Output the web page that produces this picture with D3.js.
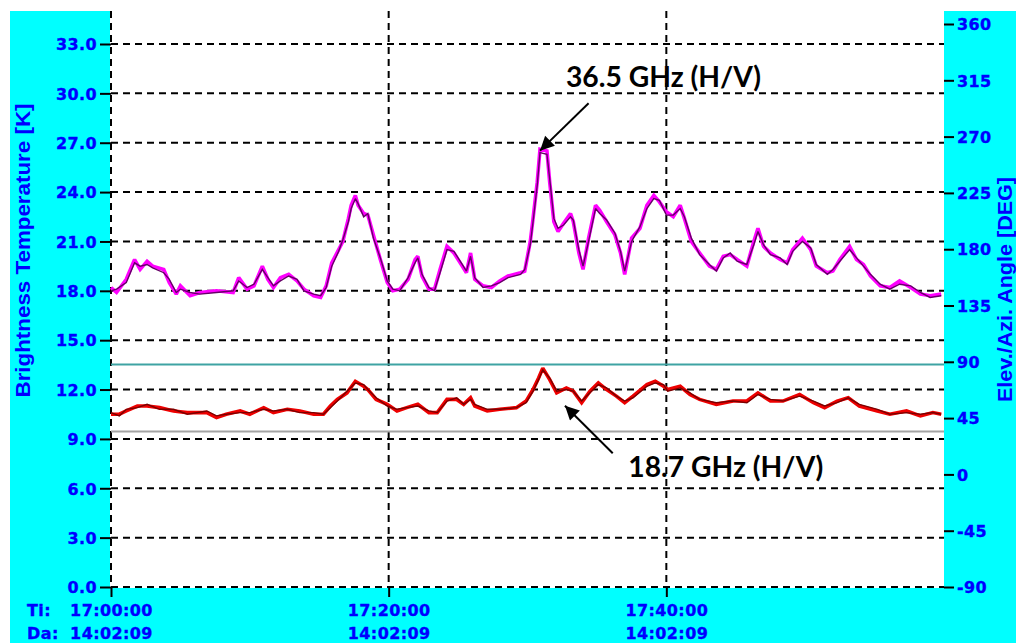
<!DOCTYPE html>
<html><head><meta charset="utf-8">
<script src="https://cdn.jsdelivr.net/npm/d3@7"></script>
<style>
html,body{margin:0;padding:0;background:#fff;}
svg{display:block;}
</style></head><body>
<svg id="chart" width="1016" height="643"></svg>
<script>
// ---- data ----
const leftTicks = [0, 3, 6, 9, 12, 15, 18, 21, 24, 27, 30, 33];
const rightTicks = [-90, -45, 0, 45, 90, 135, 180, 225, 270, 315, 360];
const timeTicks = [0, 20, 40]; // minutes after 17:00:00
const timeLabels = ["17:00:00", "17:20:00", "17:40:00"];
const dateLabels = ["14:02:09", "14:02:09", "14:02:09"];

// 36.5 GHz, minutes after 17:00 and brightness temperature [K]
const t36 = [0.0,0.4,1.1,1.7,2.1,2.6,3.0,3.8,4.2,4.7,5.0,5.7,6.4,7.6,8.8,9.2,9.8,10.3,10.9,11.3,11.7,12.2,12.8,13.4,13.9,14.6,15.1,15.5,15.9,16.4,16.7,17.1,17.3,17.6,17.8,18.2,18.5,18.9,19.4,19.9,20.3,20.8,21.4,21.9,22.1,22.4,22.9,23.3,23.7,24.2,24.7,25.3,25.6,25.9,26.2,26.8,27.4,28.0,28.6,29.5,29.8,30.2,30.4,30.7,30.9,31.4,31.6,31.9,32.2,32.6,33.1,33.3,33.7,34.0,34.4,34.9,35.2,35.7,36.3,36.7,37.0,37.5,38.1,38.6,39.1,39.5,40.0,40.5,41.0,41.3,41.8,42.4,43.1,43.6,44.1,44.6,45.1,45.8,46.3,46.6,47.0,47.5,48.2,48.7,49.1,49.8,50.4,50.8,51.6,52.0,52.5,53.2,53.7,54.2,54.7,55.4,56.1,56.8,57.6,58.3,59.0,59.8];
const tb36H = [18.2,17.9,18.7,19.9,19.3,19.8,19.5,19.3,18.5,17.8,18.3,17.7,17.9,18.0,17.9,18.8,18.1,18.3,19.5,18.7,18.2,18.8,19.0,18.6,18.1,17.7,17.6,18.3,19.7,20.5,21.0,22.4,23.2,23.8,23.2,22.7,22.6,21.4,19.9,18.5,18.0,18.1,18.7,19.9,20.1,18.9,18.1,18.1,19.3,20.7,20.3,19.5,19.1,20.3,18.7,18.3,18.2,18.6,18.9,19.1,19.2,21.0,22.4,24.6,26.6,26.5,24.6,22.2,21.6,22.1,22.7,22.2,20.3,19.3,21.2,23.2,22.9,22.2,21.4,20.3,19.0,21.2,21.8,23.2,23.8,23.4,22.8,22.5,23.2,22.4,21.0,20.3,19.5,19.3,20.1,20.2,19.9,19.5,21.0,21.8,20.7,20.3,19.9,19.7,20.5,21.2,20.5,19.5,19.1,19.2,19.9,20.7,19.9,19.6,18.9,18.3,18.2,18.6,18.2,17.8,17.7,17.8];
const tb36V = [18.0,18.1,18.5,19.7,19.5,19.6,19.4,19.1,18.7,17.9,18.1,17.9,17.8,17.9,18.0,18.6,18.2,18.4,19.3,18.8,18.3,18.6,18.9,18.7,18.0,17.8,17.7,18.2,19.5,20.4,21.1,22.2,23.0,23.6,23.3,22.5,22.7,21.2,20.0,18.6,18.1,18.0,18.8,19.7,20.0,19.0,18.2,18.0,19.1,20.5,20.4,19.6,19.2,20.1,18.8,18.2,18.3,18.5,18.8,19.0,19.3,20.8,22.2,24.4,26.4,26.3,24.8,22.4,21.8,22.0,22.5,22.3,20.5,19.5,21.0,23.0,22.7,22.3,21.5,20.4,19.2,21.0,21.9,23.0,23.6,23.5,22.6,22.6,23.0,22.5,21.2,20.2,19.6,19.2,20.0,20.3,19.8,19.6,20.8,21.6,20.8,20.2,20.0,19.6,20.4,21.0,20.6,19.6,19.0,19.3,19.8,20.5,20.0,19.5,19.0,18.4,18.1,18.4,18.3,17.9,17.6,17.7];

// 18.7 GHz
const t18 = [0.0,0.6,1.1,1.9,2.6,3.5,4.5,5.5,6.9,7.6,8.3,9.3,10.0,11.0,11.7,12.7,13.6,14.6,15.3,15.8,16.3,17.0,17.6,18.2,18.5,19.1,19.9,20.6,21.3,22.1,22.9,23.5,24.2,24.9,25.4,25.9,26.2,27.1,28.0,29.2,29.9,30.4,30.8,31.1,31.6,32.1,32.8,33.3,33.9,34.5,35.1,35.7,36.4,37.0,37.6,38.6,39.2,39.8,40.1,41.0,41.7,42.4,43.6,44.8,45.8,46.6,47.5,48.4,49.6,50.6,51.4,52.3,53.1,53.9,55.2,56.1,57.3,58.3,59.2,59.8];
const tb18H = [10.5,10.5,10.7,11.0,11.0,10.9,10.7,10.6,10.6,10.3,10.5,10.7,10.5,10.9,10.6,10.8,10.7,10.5,10.5,11.0,11.4,11.8,12.5,12.2,12.0,11.4,11.1,10.7,10.9,11.1,10.6,10.6,11.4,11.4,11.1,11.5,11.0,10.7,10.8,10.9,11.3,12.0,12.7,13.3,12.6,11.8,12.1,11.9,11.2,11.9,12.4,12.0,11.6,11.2,11.6,12.3,12.5,12.2,12.0,12.2,11.7,11.4,11.1,11.3,11.3,11.8,11.3,11.3,11.7,11.2,10.9,11.3,11.5,11.0,10.7,10.5,10.7,10.4,10.6,10.5];
const tb18V = [10.6,10.4,10.8,10.9,11.1,10.8,10.8,10.5,10.7,10.4,10.5,10.6,10.6,10.8,10.7,10.8,10.6,10.6,10.5,10.9,11.3,11.9,12.4,12.3,12.0,11.5,11.0,10.8,10.9,11.0,10.7,10.6,11.3,11.5,11.1,11.4,11.1,10.8,10.8,10.9,11.2,11.9,12.6,13.2,12.7,11.9,12.0,11.9,11.3,11.8,12.3,12.1,11.6,11.3,11.5,12.2,12.4,12.3,11.9,12.1,11.8,11.4,11.2,11.3,11.2,11.7,11.4,11.3,11.6,11.3,11.0,11.2,11.5,11.1,10.8,10.5,10.6,10.5,10.6,10.5];

// constant antenna angles [deg], right axis
const angleNames = ["Elevation", "Azimuth"];
const angleValues = [87.9, 34.2];

// annotations in data units (minutes, K)
const annoLabels = ["36.5 GHz (H/V)", "18.7 GHz (H/V)"];
const annoTextAt = [[32.77, 30.37], [37.26, 6.67]];
const annoTail = [[34.4, 29.4], [36.14, 8.13]];
const annoTip = [[30.9, 26.52], [32.7, 11.02]];

// ---- drawing ----
const svg = d3.select("#chart");
const x = d3.scaleLinear().domain([0, 60]).range([111, 944]);
const yL = d3.scaleLinear().domain([0, 33]).range([587, 44]);
const yR = d3.scaleLinear().domain([-90, 360]).range([587, 24]);
const P = {l: 110, r: 944, t: 11, b: 588};
const BLUE = "#0000ff";
const tickFont = "'DejaVu Sans', Verdana, sans-serif";

svg.append("rect").attr("x", 10).attr("y", 11).attr("width", 1006).attr("height", 632).attr("fill", "#00ffff");
svg.append("rect").attr("x", P.l).attr("y", P.t).attr("width", P.r - P.l).attr("height", P.b - P.t).attr("fill", "#ffffff");

const defs = svg.append("defs");
defs.append("clipPath").attr("id", "clip").append("rect")
  .attr("x", P.l).attr("y", P.t).attr("width", P.r - P.l).attr("height", P.b - P.t);
defs.append("marker").attr("id", "arrow").attr("viewBox", "0 0 10 10")
  .attr("refX", 10).attr("refY", 5).attr("markerUnits", "userSpaceOnUse")
  .attr("markerWidth", 17).attr("markerHeight", 14).attr("orient", "auto")
  .append("path").attr("d", "M0,0 L10,5 L0,10 Z").attr("fill", "#000");

// grid
const grid = svg.append("g");
grid.selectAll("line.h").data(leftTicks).enter().append("line")
  .attr("x1", x(0)).attr("x2", P.r).attr("y1", d => yL(d)).attr("y2", d => yL(d))
  .attr("stroke", "#000").attr("stroke-width", 2).attr("stroke-dasharray", "7,5");
grid.selectAll("line.v").data(timeTicks).enter().append("line")
  .attr("x1", d => x(d)).attr("x2", d => x(d)).attr("y1", P.t).attr("y2", P.b)
  .attr("stroke", "#000").attr("stroke-width", 2).attr("stroke-dasharray", "7,5");

// angle reference lines
const angleColors = ["#3fa3a3", "#a4a4a4"];
svg.append("g").selectAll("line").data(angleValues).enter().append("line")
  .attr("x1", x(0)).attr("x2", P.r).attr("y1", d => yR(d)).attr("y2", d => yR(d))
  .attr("stroke", (d, i) => angleColors[i]).attr("stroke-width", 2);

// series
const series = [
  {t: t36, v: tb36H, color: "#ff00ff", w: 3.6},
  {t: t36, v: tb36V, color: "#660066", w: 1.4},
  {t: t18, v: tb18H, color: "#ee0000", w: 3.6},
  {t: t18, v: tb18V, color: "#7a0000", w: 1.4}
];
const lineGen = d3.line().x(d => x(d[0])).y(d => yL(d[1]));
const sg = svg.append("g").attr("clip-path", "url(#clip)");
series.forEach(s => {
  const pts = s.t.map((tt, i) => [tt, s.v[i]]).filter(p => p[1] !== undefined);
  sg.append("path").datum(pts).attr("d", lineGen)
    .attr("fill", "none").attr("stroke", s.color).attr("stroke-width", s.w)
    .attr("stroke-linejoin", "miter").attr("stroke-miterlimit", 2);
});

// axes
function styleAxis(g) {
  g.select(".domain").remove();
  g.selectAll(".tick line").attr("stroke", "#000").attr("stroke-width", 2);
  g.selectAll(".tick text").attr("fill", BLUE).attr("font-family", tickFont)
    .attr("font-weight", "bold").attr("font-size", 16).attr("letter-spacing", "0.4px")
    .attr("stroke", BLUE).attr("stroke-width", 0.35);
}
const gl = svg.append("g").attr("transform", `translate(${x(0)},0)`)
  .call(d3.axisLeft(yL).tickValues(leftTicks).tickFormat(d3.format(".1f")).tickSize(11).tickPadding(3));
styleAxis(gl);
gl.selectAll(".tick text").attr("dy", "0.36em");

const gr = svg.append("g").attr("transform", `translate(${P.r},0)`)
  .call(d3.axisRight(yR).tickValues(rightTicks).tickFormat(d => String(d)).tickSize(10).tickPadding(3));
styleAxis(gr);
gr.selectAll(".tick text").attr("dy", "0.36em");

const gb = svg.append("g").attr("transform", `translate(0,${P.b})`)
  .call(d3.axisBottom(x).tickValues(timeTicks).tickFormat("").tickSize(9));
styleAxis(gb);
gb.selectAll(".tick").each(function(d, i) {
  const t = d3.select(this).select("text").attr("y", 0).attr("dy", null);
  t.append("tspan").attr("x", 0).attr("y", 28).text(timeLabels[i]);
  t.append("tspan").attr("x", 0).attr("y", 51).text(dateLabels[i]);
});

const rowLbl = svg.append("g").attr("fill", BLUE).attr("font-family", tickFont)
  .attr("font-weight", "bold").attr("font-size", 16).attr("letter-spacing", "0.4px")
  .attr("stroke", BLUE).attr("stroke-width", 0.35);
rowLbl.append("text").attr("x", 27).attr("y", P.b + 28).text("Ti:");
rowLbl.append("text").attr("x", 27).attr("y", P.b + 51).text("Da:");

// axis titles
svg.append("text").attr("transform", "translate(30,250.5) rotate(-90)")
  .attr("text-anchor", "middle").attr("fill", BLUE)
  .attr("font-family", "'Liberation Sans', Arial, sans-serif").attr("font-weight", "bold")
  .attr("font-size", 21).attr("textLength", 294).attr("lengthAdjust", "spacingAndGlyphs")
  .text("Brightness Temperature [K]");
svg.append("text").attr("transform", "translate(1012,289.5) rotate(-90)")
  .attr("text-anchor", "middle").attr("fill", BLUE)
  .attr("font-family", "'Liberation Sans', Arial, sans-serif").attr("font-weight", "bold")
  .attr("font-size", 20).attr("textLength", 225).attr("lengthAdjust", "spacingAndGlyphs")
  .text("Elev./Azi. Angle [DEG]");

// annotations
const ag = svg.append("g");
annoLabels.forEach((lab, i) => {
  ag.append("line")
    .attr("x1", x(annoTail[i][0])).attr("y1", yL(annoTail[i][1]))
    .attr("x2", x(annoTip[i][0])).attr("y2", yL(annoTip[i][1]))
    .attr("stroke", "#000").attr("stroke-width", 2).attr("marker-end", "url(#arrow)");
  ag.append("text").attr("x", x(annoTextAt[i][0])).attr("y", yL(annoTextAt[i][1]))
    .attr("font-family", "Lato, 'Open Sans', sans-serif").attr("font-weight", "bold")
    .attr("font-size", 28).attr("fill", "#000")
    .attr("textLength", 195).attr("lengthAdjust", "spacingAndGlyphs").text(lab);
});
</script>
</body></html>
